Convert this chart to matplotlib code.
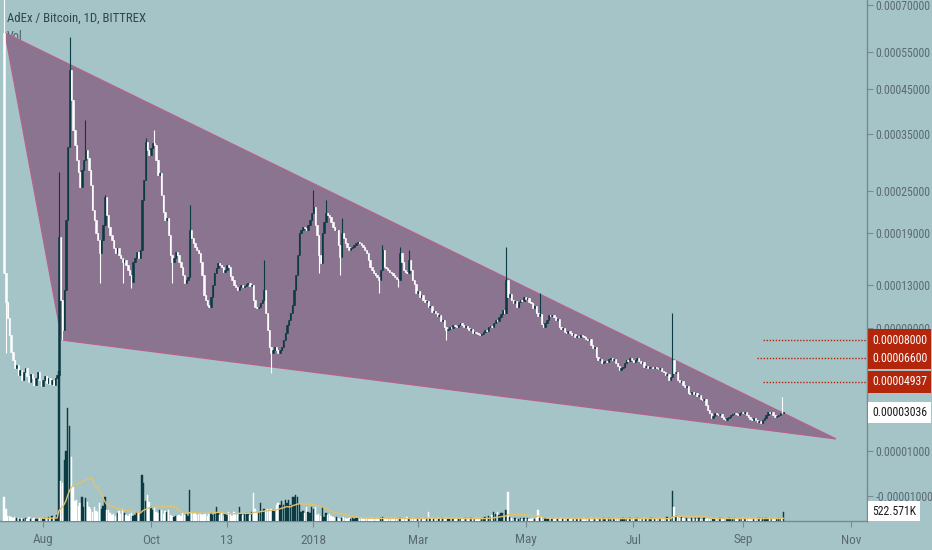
import numpy as np
import pandas as pd
import matplotlib
matplotlib.use("Agg")
import matplotlib.pyplot as plt
import matplotlib.dates as mdates
from matplotlib import font_manager
from matplotlib.patches import Polygon
from matplotlib.transforms import blended_transform_factory, Bbox, TransformedBbox

# ---------------- data ----------------
start_date = "2017-07-10"
first_open_sat = 60660

close_sat = [
    14260, 11320, 9860, 8410, 7070, 6470, 5890, 6100, 5400, 5750,
    5070, 5610, 5890, 5340, 4930, 5470, 5200, 4730, 5200, 5610,
    5070, 4670, 5070, 5340, 4870, 5200, 4800, 5070, 4730, 5200,
    5400, 18480, 11510, 8820, 12490, 20720, 32530, 49930, 42430, 35870,
    32910, 30140, 28050, 25590, 28390, 30140, 31960, 30500, 28390, 25910,
    22120, 20720, 19000, 18100, 16530, 18100, 20050, 24040, 21420, 19780,
    18740, 18100, 17120, 16530, 17120, 16290, 15940, 15480, 15710, 15140,
    14590, 14050, 13310, 15480, 15940, 16650, 15940, 16880, 23590, 26720,
    33490, 31960, 31040, 32340, 33300, 32910, 30140, 27540, 27880, 24340,
    21840, 20720, 21000, 18740, 16290, 15480, 15940, 16650, 16290, 15480,
    14920, 14050, 13210, 13520, 13840, 19390, 18360, 17730, 17240, 16880,
    16530, 15480, 14050, 12000, 11510, 11040, 10850, 11800, 13000, 14260,
    14810, 15370, 15140, 14920, 14370, 14590, 15140, 14920, 13940, 13520,
    13000, 12800, 12490, 12800, 13000, 12800, 12900, 13100, 13210, 12900,
    13000, 11510, 10850, 10760, 10850, 11230, 11510, 12490, 10300, 8820,
    7450, 6990, 7220, 7450, 7220, 6990, 7220, 7450, 8000, 8570,
    9250, 9680, 10300, 11040, 12490, 14050, 16290, 19000, 19390, 19780,
    19650, 19390, 20050, 20720, 21700, 22560, 20050, 18740, 16290, 15370,
    19000, 20450, 21700, 21420, 21140, 20450, 19780, 19390, 19390, 17490,
    16060, 19000, 18360, 17730, 17240, 16880, 17120, 17240, 17490, 17730,
    17860, 17730, 17490, 17240, 16880, 16530, 15710, 14920, 14590, 14260,
    14050, 13840, 13520, 14590, 16880, 14920, 14810, 14590, 14370, 14260,
    14050, 13840, 13620, 13520, 16530, 15480, 14590, 14370, 14260, 15710,
    14590, 13520, 13100, 12200, 12400, 11800, 11950, 11510, 11320, 11450,
    10850, 10950, 10390, 10500, 10300, 10030, 10150, 9590, 9700, 9080,
    8820, 8910, 9080, 8980, 9250, 9160, 9080, 9250, 9420, 9250,
    9080, 9180, 8990, 8820, 8900, 8570, 8650, 8570, 8490, 8410,
    8490, 8660, 8820, 8750, 9080, 9160, 9080, 9420, 9680, 9600,
    9950, 10210, 10580, 10300, 13520, 11800, 12100, 11510, 11230, 11400,
    10850, 11320, 11510, 11400, 11800, 11610, 11700, 11320, 11230, 10760,
    10900, 10300, 10030, 10200, 9330, 9080, 9420, 9680, 10120, 10000,
    10120, 9950, 9680, 9800, 9080, 8910, 9000, 8660, 8570, 8700,
    8570, 8410, 8500, 8250, 8330, 8250, 8410, 8330, 8250, 8080,
    8000, 8100, 7610, 7370, 7450, 6690, 6470, 6550, 6250, 6320,
    6400, 6300, 6540, 6620, 6470, 6550, 6250, 6030, 5750, 5890,
    5960, 6250, 6470, 6400, 6620, 6470, 6320, 6470, 6620, 6400,
    6250, 6300, 5960, 6050, 5890, 5960, 5960, 5880, 5950, 5890,
    5820, 5900, 5680, 5610, 5400, 5450, 5070, 5270, 6470, 5540,
    5600, 5070, 4930, 5000, 4730, 4600, 4700, 4220, 4150, 4250,
    4150, 4220, 4030, 4100, 3840, 3780, 3850, 3480, 3180, 3010,
    2720, 2830, 3010, 2950, 2890, 2950, 2780, 2660, 2610, 2720,
    2780, 2890, 2950, 3010, 2950, 2890, 3010, 3060, 2990, 3060,
    2890, 2780, 2660, 2610, 2720, 2610, 2500, 2560, 2440, 2610,
    2720, 2890, 3060, 3010, 3060, 2890, 2780, 2830, 2890, 3010,
    2990, 3036,
]

wick_high_sat = {0: 80000, 31: 28050, 37: 59420, 46: 37960, 57: 24340, 80: 34270,
                 85: 35870, 105: 22850, 147: 15710, 175: 25120, 182: 23590,
                 191: 21000, 214: 17490, 224: 17240, 229: 16880, 284: 17240,
                 303: 12200, 378: 10300, 440: 3970}
wick_low_sat = {1: 6990, 33: 8000, 54: 13210, 67: 13210, 72: 12700, 95: 13210,
                151: 5540, 178: 14260, 190: 14050, 212: 12200, 223: 12800, 250: 8000}

volume_k = [
    1390, 700, 290, 290, 230, 170, 230, 170, 170, 120,
    170, 120, 170, 120, 230, 120, 120, 170, 120, 120,
    170, 120, 120, 170, 120, 230, 170, 290, 230, 170,
    350, 8700, 2320, 2200, 3540, 4060, 6550, 5510, 3710, 1970,
    1160, 1220, 870, 1040, 1390, 810, 1330, 1100, 810, 700,
    520, 810, 580, 520, 1040, 700, 870, 1390, 640, 640,
    460, 350, 410, 290, 460, 580, 410, 700, 460, 350,
    290, 410, 460, 290, 350, 520, 460, 520, 2670, 2200,
    1160, 1510, 1100, 810, 640, 810, 520, 460, 640, 640,
    410, 580, 520, 640, 350, 290, 230, 290, 290, 350,
    290, 460, 350, 410, 290, 1800, 520, 410, 460, 350,
    410, 460, 350, 410, 460, 290, 460, 460, 350, 410,
    810, 460, 350, 520, 290, 410, 350, 520, 410, 290,
    520, 350, 410, 810, 410, 350, 410, 460, 410, 350,
    520, 1620, 700, 460, 520, 1040, 580, 700, 640, 700,
    580, 700, 640, 580, 930, 1040, 930, 1160, 930, 1220,
    1040, 1220, 930, 1390, 1390, 1510, 1390, 990, 520, 580,
    460, 810, 520, 460, 810, 700, 810, 350, 410, 290,
    810, 230, 460, 350, 410, 290, 230, 170, 230, 170,
    120, 170, 230, 170, 120, 170, 120, 170, 120, 170,
    170, 120, 170, 120, 120, 170, 120, 170, 170, 120,
    120, 170, 120, 170, 230, 120, 170, 120, 120, 170,
    120, 170, 120, 120, 170, 120, 170, 120, 230, 170,
    120, 170, 120, 120, 170, 120, 120, 170, 120, 170,
    520, 120, 170, 120, 120, 170, 120, 120, 170, 120,
    170, 120, 120, 170, 120, 120, 170, 120, 120, 170,
    120, 170, 120, 120, 170, 120, 120, 170, 120, 170,
    120, 170, 230, 170, 290, 230, 350, 520, 410, 520,
    350, 460, 460, 290, 640, 1680, 230, 170, 120, 170,
    120, 120, 170, 120, 170, 120, 170, 120, 120, 170,
    120, 170, 640, 170, 230, 120, 170, 120, 120, 170,
    120, 120, 170, 120, 120, 170, 120, 120, 170, 120,
    120, 170, 120, 120, 120, 170, 120, 120, 170, 120,
    120, 120, 170, 120, 120, 170, 120, 120, 120, 170,
    120, 120, 170, 120, 120, 120, 170, 120, 120, 120,
    170, 120, 120, 120, 170, 120, 120, 120, 170, 120,
    120, 120, 170, 120, 120, 120, 170, 120, 120, 120,
    170, 120, 120, 170, 120, 230, 120, 170, 1740, 810,
    290, 230, 170, 230, 170, 120, 170, 120, 120, 170,
    120, 170, 120, 170, 120, 120, 170, 120, 170, 120,
    170, 120, 120, 170, 120, 170, 120, 120, 170, 120,
    170, 120, 120, 170, 120, 170, 120, 120, 170, 120,
    170, 120, 170, 120, 120, 170, 120, 170, 120, 170,
    120, 170, 120, 170, 120, 120, 170, 120, 170, 120,
    170, 522.571,
]

triangle_day = [0.5, 32.75, 470.5]
triangle_btc = [0.0006066, 0.00008, 0.0000159]

level_btc = [0.00008, 0.000066, 0.00004937]
level_start_day = [429.2, 425.8, 429.2]
level_text = ["0.00008000", "0.00006600", "0.00004937"]

y_tick_btc = [0.0007, 0.00055, 0.00045, 0.00035, 0.00025, 0.00019,
              0.00013, 0.00009, 0.00001, -0.00001]
x_tick_dates = ["2017-08-01", "2017-10-01", "2017-11-13", "2018-01-01", "2018-03-01",
                "2018-05-01", "2018-07-01", "2018-09-01", "2018-11-01"]
x_tick_labels = ["Aug", "Oct", "13", "2018", "Mar", "May", "Jul", "Sep", "Nov"]

title_text = "AdEx / Bitcoin, 1D, BITTREX"
last_price_text = "0.00003036"
last_volume_text = "522.571K"

# ---------------- style ----------------
BG = "#a5c4c8"
DARK = "#0c3a43"
LIGHT = "#ffffff"
TXT = "#5a6a72"
SPINE = "#768a90"
RED = "#b3260c"
TRI_FC = "#8b7490"
TRI_EC = "#b0648c"
MA_C = "#e2c26c"

installed = {f.name for f in font_manager.fontManager.ttflist}
if "Liberation Sans Narrow" in installed:
    NARROW = "Liberation Sans Narrow"
    AX_FS, LBL_FS, TITLE_FS, XT_FS = 9.0, 9.0, 9.6, 10.0
elif "Roboto Condensed" in installed:
    NARROW = "Roboto Condensed"
    AX_FS, LBL_FS, TITLE_FS, XT_FS = 8.5, 8.5, 9.2, 9.5
else:
    NARROW = "Roboto"
    AX_FS, LBL_FS, TITLE_FS, XT_FS = 7.4, 7.4, 8.4, 8.5
plt.rcParams["font.family"] = [NARROW, "DejaVu Sans"]

# ---------------- derived ----------------
n = len(close_sat)
base = mdates.date2num(pd.Timestamp(start_date))
xs = base + np.arange(n)
close = np.array(close_sat, float) * 1e-8
opens = np.concatenate([[first_open_sat * 1e-8], close[:-1]])
highs = np.maximum(opens, close).copy()
lows = np.minimum(opens, close).copy()
for k, v in wick_high_sat.items():
    highs[k] = max(highs[k], v * 1e-8)
for k, v in wick_low_sat.items():
    lows[k] = min(lows[k], v * 1e-8)
up = close >= opens
cols = np.where(up, DARK, LIGHT)

C = 1e-4
def fwd(p):
    return np.log(np.maximum(np.asarray(p, float) + C, 1e-12))
def inv(t):
    return np.exp(t) - C

fig = plt.figure(figsize=(9.32, 5.5), dpi=100, facecolor=BG)
ax = fig.add_axes([0, 29 / 550, 867 / 932, 521 / 550])
ax.set_facecolor(BG)
axv = ax.twinx()

ax.set_yscale("function", functions=(fwd, inv))
ax.set_ylim(-0.0000196, 0.0007184)
ax.set_xlim(base - 2.32, base + 488.1)

# triangle
tri = Polygon(list(zip(base + np.array(triangle_day), triangle_btc)), closed=True,
              facecolor=TRI_FC, edgecolor=TRI_EC, lw=1.0, zorder=1)
ax.add_patch(tri)

# candles
ax.vlines(xs, lows, highs, colors=cols, lw=0.8, zorder=3)
ax.bar(xs, close - opens, bottom=opens, width=0.78, color=cols,
       edgecolor=cols, linewidth=0.4, zorder=4)

# level lines and labels
trans = blended_transform_factory(ax.transAxes, ax.transData)
for lv, sd, tx in zip(level_btc, level_start_day, level_text):
    ax.plot([base + sd, base + 488.1], [lv, lv], ls=(0, (1, 1.2)), color=RED, lw=1.0, zorder=5)
    ax.text(1.0 + 5 / 867, lv, tx, transform=trans, ha="left", va="center",
            fontsize=LBL_FS, color="white", clip_on=False, zorder=10,
            bbox=dict(boxstyle="square,pad=0.35", fc=RED, ec="none"))

ax.text(1.0 + 5 / 867, close[-1], last_price_text, transform=trans, ha="left", va="center",
        fontsize=LBL_FS, color="#1a1a1a", clip_on=False, zorder=10,
        bbox=dict(boxstyle="square,pad=0.35", fc="white", ec="none"))

# axes ticks (right side)
ax.yaxis.tick_right()
ax.yaxis.set_label_position("right")
ax.set_yticks(y_tick_btc)
ax.set_yticklabels([f"{v:.8f}" for v in y_tick_btc])
ax.yaxis.set_minor_locator(matplotlib.ticker.NullLocator())
ax.tick_params(axis="y", which="both", left=False, labelleft=False, right=True, labelright=True,
               direction="out", length=4, width=0.8, color=SPINE,
               labelcolor=TXT, labelsize=AX_FS, pad=2)
ax.set_xticks([mdates.date2num(pd.Timestamp(d)) for d in x_tick_dates])
ax.set_xticklabels(x_tick_labels)
ax.tick_params(axis="x", direction="out", length=4, width=0.8, color=SPINE,
               labelcolor=TXT, labelsize=XT_FS, pad=5)
for s in ["top", "left"]:
    ax.spines[s].set_visible(False)
for s in ["right", "bottom"]:
    ax.spines[s].set_color(SPINE)
    ax.spines[s].set_linewidth(1.0)

ax.text(7 / 867, 1 - 18 / 521, title_text, transform=ax.transAxes, ha="left", va="center",
        fontsize=TITLE_FS, color="#34444c", zorder=12)
ax.text(7 / 867, 1 - 37 / 521, "Vol", transform=ax.transAxes, ha="left", va="center",
        fontsize=TITLE_FS - 0.5, color="#4a5a62", zorder=0.5)

# volume overlay
axv.set_ylim(0, 521 * 58)
axv.set_yticks([])
axv.tick_params(axis="y", right=False, left=False, labelright=False, labelleft=False)
for s in axv.spines.values():
    s.set_visible(False)
vol = np.array(volume_k, float)
axv.bar(xs, vol, width=0.78, color=cols, edgecolor=cols, linewidth=0.3, zorder=2)
ma = pd.Series(vol).rolling(20).mean()
axv.plot(xs, ma, color=MA_C, lw=1.0, zorder=3)
vt = axv.text(1.0 + 5 / 867, vol[-1], last_volume_text,
              transform=blended_transform_factory(axv.transAxes, axv.transData),
              ha="left", va="center", fontsize=LBL_FS, color="#1a1a1a", zorder=10,
              bbox=dict(boxstyle="square,pad=0.35", fc="white", ec="none"))
vt.set_clip_box(TransformedBbox(Bbox([[0.9, 29 / 550], [1.0, 1.0]]), fig.transFigure))
vt.set_clip_on(True)

fig.savefig("out.png", dpi=100, facecolor=BG)
